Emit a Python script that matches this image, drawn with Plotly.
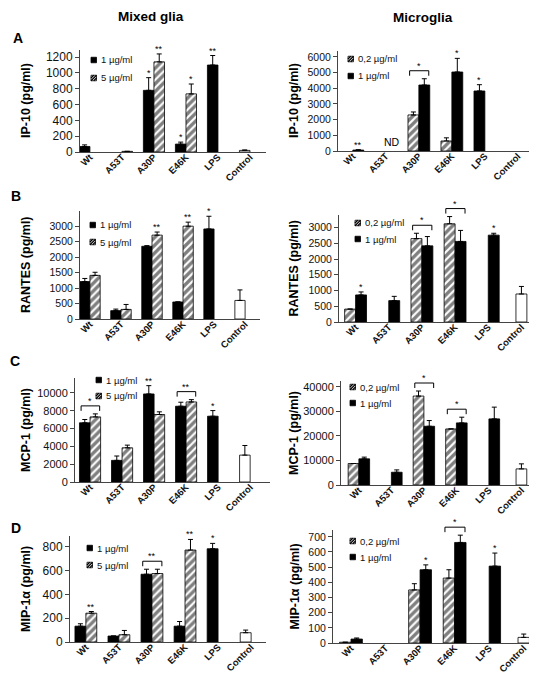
import plotly.graph_objects as go

W, H = 537, 673
FONT = "Liberation Sans, Arial, sans-serif"
AX = "#444444"

categories = ["Wt", "A53T", "A30P", "E46K", "LPS", "Control"]

# ---------------- A : IP-10 ----------------
ip10_mixed_ticks = [0, 200, 400, 600, 800, 1000, 1200]
ip10_mixed_1ug = [70, None, 780, 100, 1100, None]
ip10_mixed_1ug_err = [20, None, 160, 25, 120, None]
ip10_mixed_5ug = [None, 8, 1140, 735, None, None]
ip10_mixed_5ug_err = [None, None, 100, 125, None, None]
ip10_mixed_ctrl = [20]
ip10_mixed_ctrl_err = [6]
ip10_mixed_stars_1ug = ["", "", "*", "*", "**", ""]
ip10_mixed_stars_5ug = ["", "", "**", "*", "", ""]

ip10_micro_ticks = [0, 1000, 2000, 3000, 4000, 5000, 6000]
ip10_micro_02ug = [None, None, 2300, 640, None, None]
ip10_micro_02ug_err = [None, None, 190, 200, None, None]
ip10_micro_1ug = [60, None, 4210, 5040, 3830, None]
ip10_micro_1ug_err = [20, None, 400, 870, 400, None]
ip10_micro_stars_1ug = ["**", "", "", "*", "*", ""]
ip10_micro_brackets = {"A30P": "*"}

# ---------------- B : RANTES ----------------
rantes_mixed_ticks = [0, 500, 1000, 1500, 2000, 2500, 3000]
rantes_mixed_1ug = [1210, 270, 2350, 550, 2910, None]
rantes_mixed_1ug_err = [100, 50, 20, None, 410, None]
rantes_mixed_5ug = [1410, 310, 2710, 3000, None, None]
rantes_mixed_5ug_err = [100, 160, 100, 130, None, None]
rantes_mixed_ctrl = [600]
rantes_mixed_ctrl_err = [340]
rantes_mixed_stars_1ug = ["", "", "", "", "*", ""]
rantes_mixed_stars_5ug = ["", "", "**", "**", "", ""]

rantes_micro_ticks = [0, 500, 1000, 1500, 2000, 2500, 3000]
rantes_micro_02ug = [410, None, 2650, 3120, None, None]
rantes_micro_02ug_err = [None, None, 170, 230, None, None]
rantes_micro_1ug = [860, 680, 2420, 2560, 2760, None]
rantes_micro_1ug_err = [95, 135, 295, 350, 60, None]
rantes_micro_ctrl = [890]
rantes_micro_ctrl_err = [240]
rantes_micro_stars_1ug = ["*", "", "", "", "*", ""]
rantes_micro_brackets = {"A30P": "*", "E46K": "*"}

# ---------------- C : MCP-1 ----------------
mcp1_mixed_ticks = [0, 2000, 4000, 6000, 8000, 10000]
mcp1_mixed_1ug = [6650, 2430, 9890, 8510, 7390, None]
mcp1_mixed_1ug_err = [370, 490, 930, 450, 630, None]
mcp1_mixed_5ug = [7310, 3840, 7580, 8990, None, None]
mcp1_mixed_5ug_err = [340, 300, 300, 260, None, None]
mcp1_mixed_ctrl = [3020]
mcp1_mixed_ctrl_err = [1080]
mcp1_mixed_stars_1ug = ["", "", "**", "", "*", ""]
mcp1_mixed_brackets = {"Wt": "*", "E46K": "**"}

mcp1_micro_ticks = [0, 10000, 20000, 30000, 40000]
mcp1_micro_02ug = [8740, None, 36180, 22800, None, None]
mcp1_micro_02ug_err = [None, None, 2050, None, None, None]
mcp1_micro_1ug = [10650, 5190, 23890, 25260, 26890, None]
mcp1_micro_1ug_err = [680, 950, 2320, 2320, 4780, None]
mcp1_micro_ctrl = [6550]
mcp1_micro_ctrl_err = [2050]
mcp1_micro_brackets = {"A30P": "*", "E46K": "*"}

# ---------------- D : MIP-1α ----------------
mip1a_mixed_ticks = [0, 200, 400, 600, 800]
mip1a_mixed_1ug = [133, 50, 569, 133, 783, None]
mip1a_mixed_1ug_err = [20, None, 42, 39, 45, None]
mip1a_mixed_5ug = [242, 61, 575, 772, None, None]
mip1a_mixed_5ug_err = [14, 36, 36, 89, None, None]
mip1a_mixed_ctrl = [78]
mip1a_mixed_ctrl_err = [22]
mip1a_mixed_stars_1ug = ["", "", "", "", "*", ""]
mip1a_mixed_stars_5ug = ["**", "", "", "**", "", ""]
mip1a_mixed_brackets = {"A30P": "**"}

mip1a_micro_ticks = [0, 100, 200, 300, 400, 500, 600, 700]
mip1a_micro_02ug = [5, None, 350, 428, None, None]
mip1a_micro_02ug_err = [None, None, 41, 55, None, None]
mip1a_micro_1ug = [26, None, 483, 663, 507, None]
mip1a_micro_1ug_err = [7, None, 32, 48, 86, None]
mip1a_micro_ctrl = [37]
mip1a_micro_ctrl_err = [22]
mip1a_micro_stars_1ug = ["", "", "*", "", "*", ""]
mip1a_micro_brackets = {"E46K": "*"}

BW = 0.33
SOLID = dict(color="black", line=dict(color="black", width=0.8))
HATCH = dict(color="white", line=dict(color="black", width=0.8),
             pattern=dict(shape="/", fgcolor="black", bgcolor="white", size=5.5, solidity=0.6))
NO_STARS = [""] * 6


def left_series(v1, e1, s1, v5, e5, s5):
    return [("1 µg/ml", v1, e1, s1, SOLID, -BW, False), ("5 µg/ml", v5, e5, s5, HATCH, 0.0, True)]


def right_series(v02, e02, s02, v1, e1, s1, lps_off=0.0):
    off1 = [0.0, 0.0, 0.0, 0.0, lps_off, 0.0]
    return [("0,2 µg/ml", v02, e02, s02, HATCH, -BW, True), ("1 µg/ml", v1, e1, s1, SOLID, off1, False)]


panels = [
    dict(x_px=(72, 258), y_px=(42, 144), xrange=[-0.31, 5.5], ymax=1290, ticks=ip10_mixed_ticks,
         ytitle="IP-10 (pg/ml)", tfs=12, tx=18,
         series=left_series(ip10_mixed_1ug, ip10_mixed_1ug_err, ip10_mixed_stars_1ug,
                            ip10_mixed_5ug, ip10_mixed_5ug_err, ip10_mixed_stars_5ug),
         ctrl=(ip10_mixed_ctrl, ip10_mixed_ctrl_err, -BW), brackets={}, leg=(83, 52, 70)),
    dict(x_px=(330, 531), y_px=(43, 143), xrange=[-0.45, 5.64], ymax=6380, ticks=ip10_micro_ticks,
         ytitle="IP-10 (pg/ml)", tfs=10.5, tx=286,
         series=right_series(ip10_micro_02ug, ip10_micro_02ug_err, NO_STARS,
                             ip10_micro_1ug, ip10_micro_1ug_err, ip10_micro_stars_1ug, lps_off=-BW),
         ctrl=None, brackets=ip10_micro_brackets, leg=(340, 51, 68), nd=True),
    dict(x_px=(72, 252), y_px=(203, 311), xrange=[-0.32, 5.48], ymax=3490, ticks=rantes_mixed_ticks,
         ytitle="RANTES (pg/ml)", tfs=10.5, tx=18,
         series=left_series(rantes_mixed_1ug, rantes_mixed_1ug_err, rantes_mixed_stars_1ug,
                            rantes_mixed_5ug, rantes_mixed_5ug_err, rantes_mixed_stars_5ug),
         ctrl=(rantes_mixed_ctrl, rantes_mixed_ctrl_err, -BW), brackets={}, leg=(82, 217, 234)),
    dict(x_px=(331, 530), y_px=(207, 314), xrange=[-0.5, 5.5], ymax=3400, ticks=rantes_micro_ticks,
         ytitle="RANTES (pg/ml)", tfs=10.5, tx=286,
         series=right_series(rantes_micro_02ug, rantes_micro_02ug_err, NO_STARS,
                             rantes_micro_1ug, rantes_micro_1ug_err, rantes_micro_stars_1ug),
         ctrl=(rantes_micro_ctrl, rantes_micro_ctrl_err, -BW / 2), brackets=rantes_micro_brackets,
         leg=(347, 215, 231)),
    dict(x_px=(67, 262), y_px=(370, 474), xrange=[-0.47, 5.62], ymax=11680, ticks=mcp1_mixed_ticks,
         ytitle="MCP-1 (pg/ml)", tfs=11, tx=18,
         series=left_series(mcp1_mixed_1ug, mcp1_mixed_1ug_err, mcp1_mixed_stars_1ug,
                            mcp1_mixed_5ug, mcp1_mixed_5ug_err, NO_STARS),
         ctrl=(mcp1_mixed_ctrl, mcp1_mixed_ctrl_err, -BW), brackets=mcp1_mixed_brackets,
         leg=(88, 372, 388)),
    dict(x_px=(333, 530), y_px=(373, 477), xrange=[-0.55, 5.51], ymax=42300, ticks=mcp1_micro_ticks,
         ytitle="MCP-1 (pg/ml)", tfs=11, tx=286,
         series=right_series(mcp1_micro_02ug, mcp1_micro_02ug_err, NO_STARS,
                             mcp1_micro_1ug, mcp1_micro_1ug_err, NO_STARS),
         ctrl=(mcp1_micro_ctrl, mcp1_micro_ctrl_err, -BW / 2), brackets=mcp1_micro_brackets,
         leg=(342, 379, 395)),
    dict(x_px=(62, 258), y_px=(528, 634), xrange=[-0.48, 5.45], ymax=890, ticks=mip1a_mixed_ticks,
         ytitle="MIP-1α (pg/ml)", tfs=12, tx=18,
         series=left_series(mip1a_mixed_1ug, mip1a_mixed_1ug_err, mip1a_mixed_stars_1ug,
                            mip1a_mixed_5ug, mip1a_mixed_5ug_err, mip1a_mixed_stars_5ug),
         ctrl=(mip1a_mixed_ctrl, mip1a_mixed_ctrl_err, -BW), brackets=mip1a_mixed_brackets,
         leg=(79, 540, 557)),
    dict(x_px=(325, 533), y_px=(522, 635), xrange=[-0.52, 5.5], ymax=745, ticks=mip1a_micro_ticks,
         ytitle="MIP-1α (pg/ml)", tfs=10.5, tx=286,
         series=right_series(mip1a_micro_02ug, mip1a_micro_02ug_err, NO_STARS,
                             mip1a_micro_1ug, mip1a_micro_1ug_err, mip1a_micro_stars_1ug),
         ctrl=(mip1a_micro_ctrl, mip1a_micro_ctrl_err, -BW / 2), brackets=mip1a_micro_brackets,
         leg=(342, 533, 549)),
]

fig = go.Figure()
layout = dict(width=W, height=H, margin=dict(l=0, r=0, t=0, b=0), paper_bgcolor="white",
              plot_bgcolor="white", barmode="overlay", showlegend=False,
              font=dict(family=FONT, color="black"))
annotations, shapes = [], []


def px_x(v):
    return v / W


def px_y(v):
    return 1 - v / H


def legend_symbol(lx, ly, hatched):
    s = 5.5
    shapes.append(dict(type="rect", xref="paper", yref="paper",
                       x0=px_x(lx), x1=px_x(lx + s), y0=px_y(ly + s / 2), y1=px_y(ly - s / 2),
                       fillcolor="white" if hatched else "black",
                       line=dict(color="black", width=0.8)))
    if hatched:
        h = s / 2
        for (a, b, c, d) in [(lx, ly + h, lx + s, ly - h), (lx, ly, lx + h, ly - h),
                             (lx + h, ly + h, lx + s, ly)]:
            shapes.append(dict(type="line", xref="paper", yref="paper",
                               x0=px_x(a), y0=px_y(b), x1=px_x(c), y1=px_y(d),
                               line=dict(color="black", width=1.2)))


for n, p in enumerate(panels, start=1):
    sfx = "" if n == 1 else str(n)
    xa, ya = "x" + sfx, "y" + sfx
    x0, x1 = p["x_px"]
    y0, y1 = p["y_px"]
    ymax = p["ymax"]
    d_per_px = ymax / (y1 - y0)
    dom_lo, dom_hi = 1 - y1 / H, 1 - y0 / H

    def to_paper(v):
        return dom_lo + v / ymax * (dom_hi - dom_lo)

    layout["xaxis" + sfx] = dict(domain=[x0 / W, x1 / W], anchor=ya, type="category",
                                 categoryorder="array", categoryarray=categories, range=p["xrange"],
                                 showline=True, linecolor=AX, linewidth=1, ticks="", tickangle=-45,
                                 tickfont=dict(size=9.5, weight="bold", color="#111"),
                                 ticklabelstandoff=-5,
                                 showgrid=False, zeroline=False, fixedrange=True, automargin=False)
    layout["yaxis" + sfx] = dict(domain=[dom_lo, dom_hi], anchor=xa, range=[0, ymax],
                                 tickvals=p["ticks"], tickformat="d", showline=True, linecolor=AX,
                                 linewidth=1, ticks="outside", ticklen=4, tickcolor=AX,
                                 tickfont=dict(size=p["tfs"], color="#111"), showgrid=False,
                                 zeroline=False, fixedrange=True, automargin=False)

    tops = {}
    lx, ly1, ly2 = p["leg"]
    for k, (name, vals, errs, stars, mk, off, hatched) in enumerate(p["series"]):
        offs = off if isinstance(off, list) else [off] * len(categories)
        fig.add_trace(go.Bar(
            x=categories, y=vals, offset=offs, width=BW, name=name,
            marker=mk, xaxis=xa, yaxis=ya,
            error_y=dict(type="data", array=errs, arrayminus=[0] * len(errs), symmetric=False,
                         color="black", thickness=1, width=2.5)))
        for i, v in enumerate(vals):
            if v is None:
                continue
            top = v + (errs[i] or 0)
            tops.setdefault(i, []).append(top)
            if stars[i]:
                annotations.append(dict(x=i + offs[i] + BW / 2, y=top, xref=xa, yref=ya,
                                        text=stars[i], showarrow=False, yanchor="bottom",
                                        yshift=-2, font=dict(size=9)))
        # legend entry (symbol + label)
        ly = ly1 if k == 0 else ly2
        legend_symbol(lx, ly, hatched)
        annotations.append(dict(x=px_x(lx + 7.5), y=px_y(ly), xref="paper", yref="paper",
                                text=name, showarrow=False, xanchor="left",
                                yanchor="middle", font=dict(size=9.5, color="#111")))
    if p["ctrl"]:
        cv, ce, coff = p["ctrl"]
        fig.add_trace(go.Bar(
            x=categories[-1:], y=cv, offset=coff, width=BW, name="Control",
            marker=dict(color="white", line=dict(color="black", width=0.8)), xaxis=xa, yaxis=ya,
            error_y=dict(type="data", array=ce, arrayminus=[0], symmetric=False,
                         color="black", thickness=1, width=2.5)))
    for cat, star in p["brackets"].items():
        i = categories.index(cat)
        base = max(tops[i])
        lo = to_paper(base + 3 * d_per_px)
        hi = to_paper(base + 8 * d_per_px)
        xl, xr = i - 0.28, i + 0.30
        for (ax0, ay0, ax1, ay1) in [(xl, lo, xl, hi), (xl, hi, xr, hi), (xr, hi, xr, lo)]:
            shapes.append(dict(type="line", x0=ax0, y0=ay0, x1=ax1, y1=ay1, xref=xa, yref="paper",
                               line=dict(color="black", width=1)))
        annotations.append(dict(x=i + 0.01, y=hi, xref=xa, yref="paper", text=star, showarrow=False,
                                yanchor="bottom", yshift=-2, font=dict(size=9)))
    if p.get("nd"):
        annotations.append(dict(x=1.2, y=0, xref=xa, yref=ya, text="ND", showarrow=False,
                                yanchor="bottom", yshift=1, font=dict(size=10.5)))
    # y-axis title
    annotations.append(dict(x=p["tx"] / W, y=1 - (y0 + y1) / 2 / H, xref="paper", yref="paper",
                            text="<b>%s</b>" % p["ytitle"], textangle=-90, showarrow=False,
                            xanchor="center", yanchor="middle", font=dict(size=12.5)))

for txt, px, py in [("Mixed glia", 143, 9), ("Microglia", 415, 10)]:
    annotations.append(dict(x=px / W, y=1 - py / H, xref="paper", yref="paper", text="<b>%s</b>" % txt,
                            showarrow=False, xanchor="center", yanchor="middle", font=dict(size=13.5)))
for txt, px, py in [("A", 10, 30), ("B", 8, 188), ("C", 7, 353), ("D", 8, 520)]:
    annotations.append(dict(x=px / W, y=1 - py / H, xref="paper", yref="paper", text="<b>%s</b>" % txt,
                            showarrow=False, xanchor="center", yanchor="middle", font=dict(size=14)))

layout["annotations"] = annotations
layout["shapes"] = shapes
fig.update_layout(**layout)
fig.write_html("out.html")
